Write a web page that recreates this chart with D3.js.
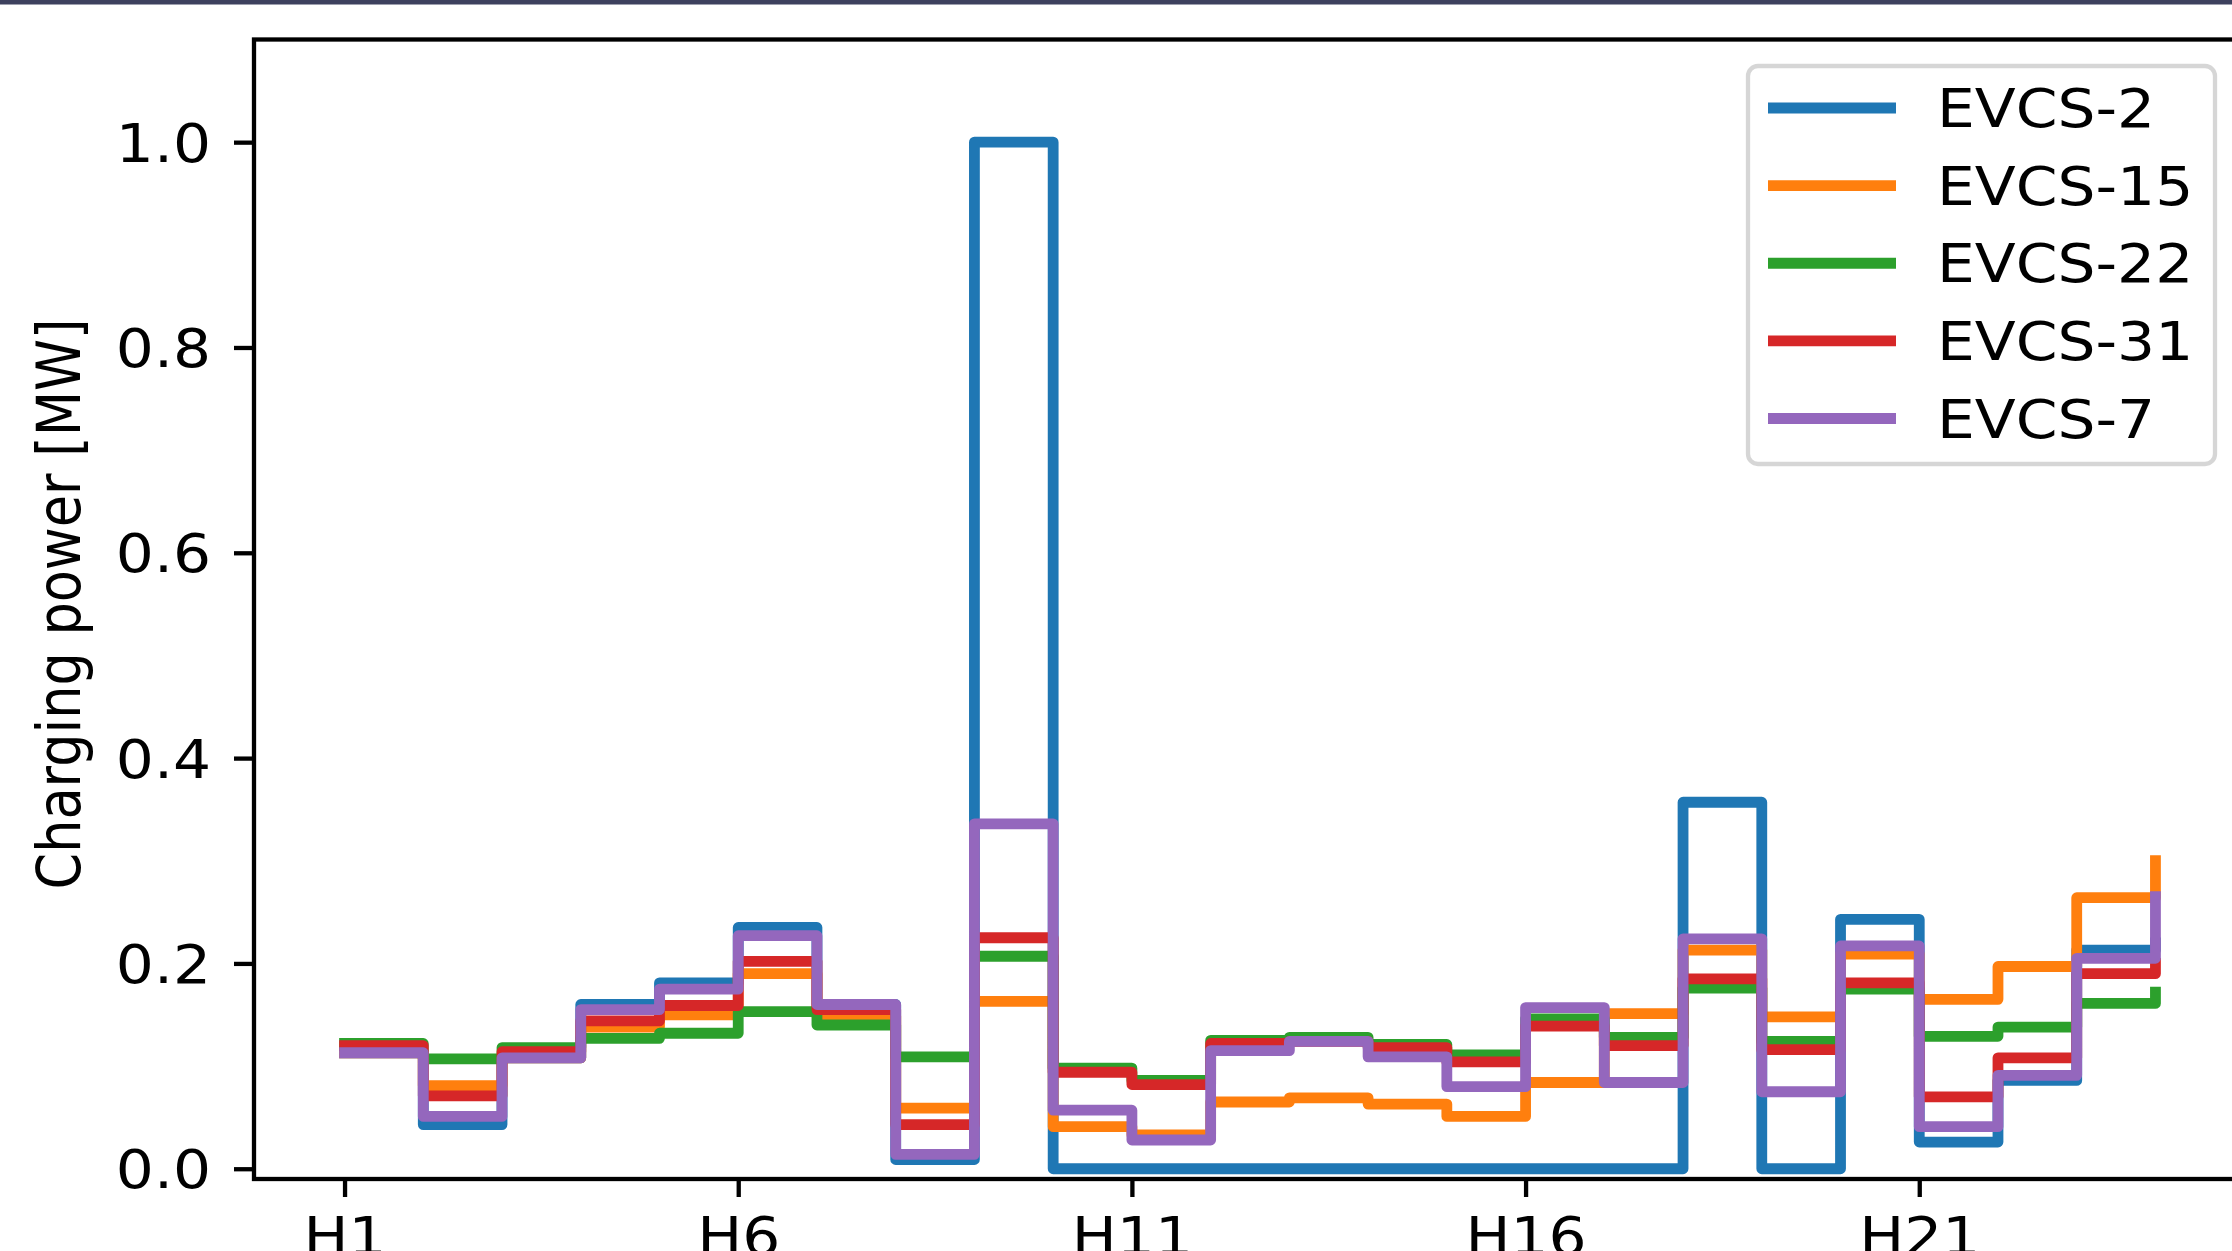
<!DOCTYPE html>
<html><head><meta charset="utf-8">
<script src="https://cdn.jsdelivr.net/npm/d3@7"></script>
<style>html,body{margin:0;padding:0;background:#fff}svg{display:block}</style>
</head><body>
<script>
// ---- data ----
const hours = d3.range(1, 25).map(i => "H" + i);
const xTickLabels = ["H1", "H6", "H11", "H16", "H21"];
const yTicks = [0.0, 0.2, 0.4, 0.6, 0.8, 1.0];
const seriesNames = ["EVCS-2", "EVCS-15", "EVCS-22", "EVCS-31", "EVCS-7"];
const evcs2  = [0.113, 0.043, 0.108, 0.160, 0.181, 0.235, 0.160, 0.009, 1.000, 0.000, 0.000, 0.000, 0.000, 0.000, 0.000, 0.000, 0.000, 0.357, 0.000, 0.243, 0.026, 0.086, 0.213, 0.220];
const evcs15 = [0.113, 0.081, 0.108, 0.138, 0.150, 0.190, 0.149, 0.059, 0.163, 0.041, 0.033, 0.065, 0.069, 0.063, 0.051, 0.084, 0.151, 0.213, 0.148, 0.209, 0.165, 0.197, 0.264, 0.300];
const evcs22 = [0.122, 0.107, 0.118, 0.127, 0.132, 0.153, 0.140, 0.109, 0.207, 0.098, 0.086, 0.125, 0.128, 0.121, 0.111, 0.146, 0.128, 0.176, 0.124, 0.175, 0.129, 0.138, 0.161, 0.172];
const evcs31 = [0.120, 0.071, 0.114, 0.144, 0.159, 0.202, 0.155, 0.043, 0.225, 0.094, 0.082, 0.122, 0.124, 0.118, 0.104, 0.139, 0.120, 0.185, 0.116, 0.181, 0.070, 0.108, 0.190, 0.200];
const evcs7  = [0.113, 0.051, 0.108, 0.155, 0.175, 0.227, 0.160, 0.014, 0.336, 0.057, 0.028, 0.115, 0.124, 0.109, 0.080, 0.157, 0.084, 0.224, 0.075, 0.217, 0.041, 0.091, 0.205, 0.265];
const seriesValues = [evcs2, evcs15, evcs22, evcs31, evcs7];
const colors = ["#1f77b4", "#ff7f0e", "#2ca02c", "#d62728", "#9467bd"];

// ---- layout ----
const W = 2232, H = 1251;
const K = 1.14;              // horizontal stretch of text in the reference
const FS = 52.5;
const FONT = "'DejaVu Sans', sans-serif";
const plot = {left: 254, right: 2246, top: 39.5, bottom: 1179};

const svg = d3.select("body").append("svg").attr("width", W).attr("height", H)
  .style("font-family", FONT);
svg.append("rect").attr("width", W).attr("height", H).attr("fill", "#fff");
svg.append("rect").attr("x", 0).attr("y", 0).attr("width", W).attr("height", 4.5).attr("fill", "#3d415e");

const x = d3.scaleLinear().domain([-1.15, 24.15]).range([plot.left, plot.right]);
const y = d3.scaleLinear().domain([-0.01, 1.1]).range([plot.bottom, plot.top]);

// lines
const line = d3.line().x((d, i) => x(i)).y(d => y(d)).curve(d3.curveStepAfter);
svg.append("g").selectAll("path").data(seriesValues).join("path")
  .attr("d", d => line(d))
  .attr("fill", "none")
  .attr("stroke", (d, i) => colors[i])
  .attr("stroke-width", 10.8)
  .attr("stroke-linejoin", "round")
  .attr("stroke-linecap", "square");

// frame
svg.append("rect").attr("x", plot.left).attr("y", plot.top)
  .attr("width", plot.right - plot.left).attr("height", plot.bottom - plot.top)
  .attr("fill", "none").attr("stroke", "#000").attr("stroke-width", 4.3);

// y axis
const yAxis = d3.axisLeft(y).tickValues(yTicks).tickSize(20).tickFormat(d3.format(".1f"));
const gy = svg.append("g").attr("transform", `translate(${plot.left},0)`).call(yAxis);
gy.select(".domain").remove();
gy.selectAll(".tick line").attr("stroke", "#000").attr("stroke-width", 4.3);
gy.selectAll(".tick text")
  .attr("x", null).attr("dy", null)
  .attr("transform", `translate(-43,19) scale(${K},1)`)
  .attr("text-anchor", "end")
  .attr("font-size", FS).attr("font-family", FONT).attr("fill", "#000");

// x axis
const xAxis = d3.axisBottom(x).tickValues([0, 5, 10, 15, 20]).tickSize(18)
  .tickFormat((d, i) => xTickLabels[i]);
const gx = svg.append("g").attr("transform", `translate(0,${plot.bottom})`).call(xAxis);
gx.select(".domain").remove();
gx.selectAll(".tick line").attr("stroke", "#000").attr("stroke-width", 4.3);
gx.selectAll(".tick text")
  .attr("y", null).attr("dy", null)
  .attr("transform", `translate(0,76) scale(${K},1)`)
  .attr("text-anchor", "middle")
  .attr("font-size", FS).attr("font-family", FONT).attr("fill", "#000");

// y label
svg.append("text")
  .attr("transform", `translate(80,604) scale(${K},1) rotate(-90)`)
  .attr("text-anchor", "middle")
  .attr("font-size", FS).attr("fill", "#000")
  .text("Charging power [MW]");

// legend
const leg = svg.append("g");
leg.append("rect").attr("x", 1748).attr("y", 66).attr("width", 467).attr("height", 398)
  .attr("rx", 10).attr("fill", "#fff").attr("fill-opacity", 0.8)
  .attr("stroke", "#d6d6d6").attr("stroke-width", 4.3);
const rowY = d3.scaleLinear().domain([0, 4]).range([108, 418.5]);
const items = leg.selectAll("g.item").data(seriesNames).join("g").attr("class", "item")
  .attr("transform", (d, i) => `translate(0,${rowY(i)})`);
items.append("line").attr("x1", 1768).attr("x2", 1896)
  .attr("stroke", (d, i) => colors[i]).attr("stroke-width", 10.8);
items.append("text")
  .attr("transform", `translate(1937,19) scale(${K},1)`)
  .attr("font-size", FS).attr("fill", "#000")
  .text(d => d);
</script>
</body></html>
